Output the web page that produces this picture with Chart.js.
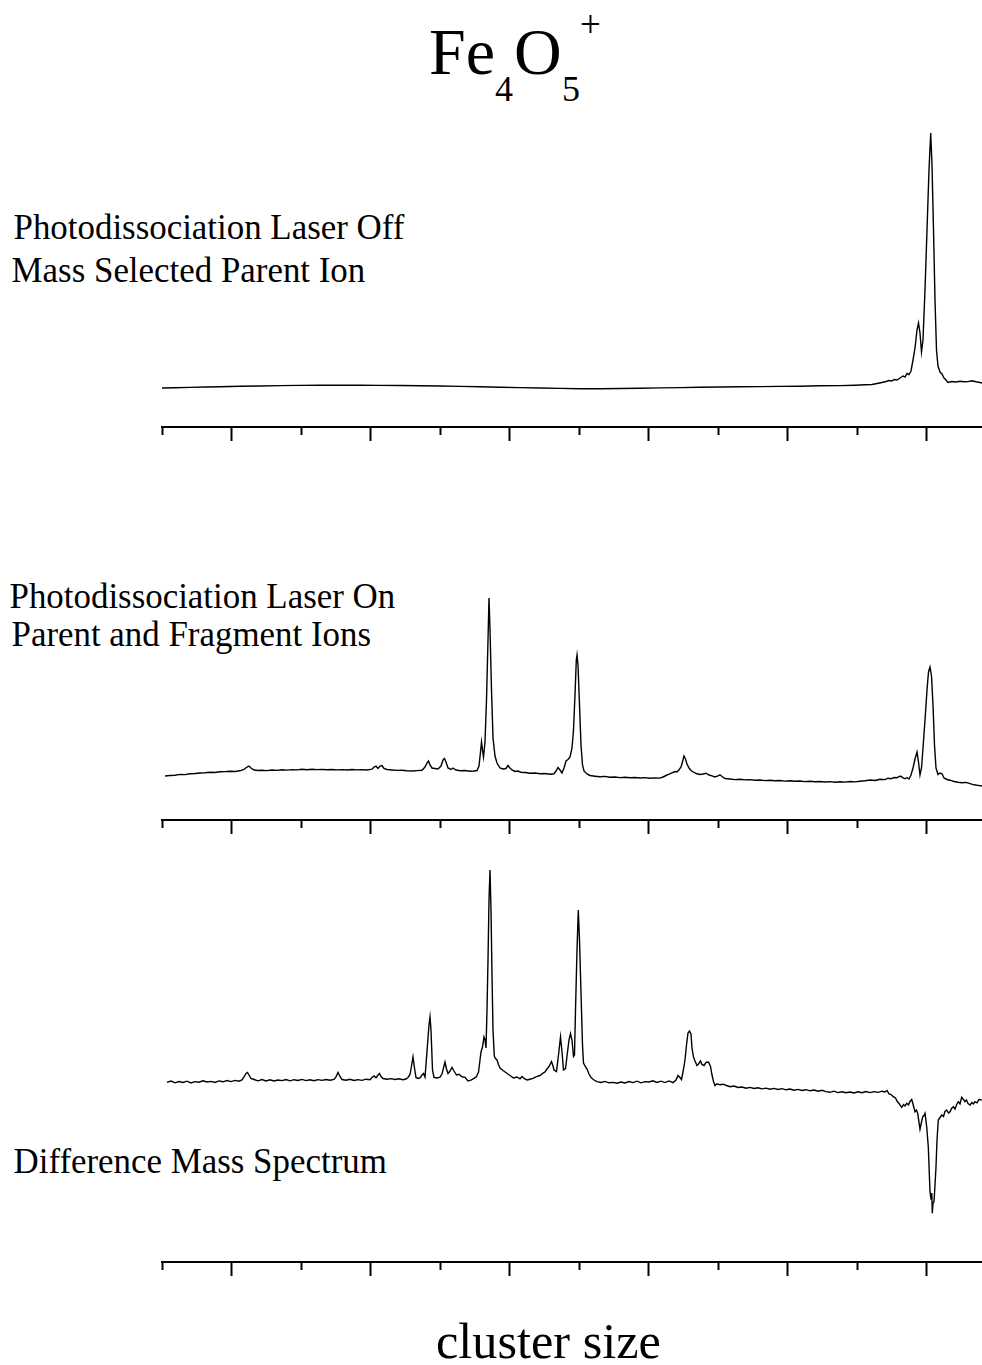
<!DOCTYPE html>
<html><head><meta charset="utf-8">
<script src="https://cdn.jsdelivr.net/npm/chart.js@4.4.1/dist/chart.umd.min.js"></script>
<style>
html,body{margin:0;padding:0;background:#fff;width:982px;height:1365px;overflow:hidden;position:relative;}
.t{position:absolute;font-family:"Liberation Serif","Times New Roman",serif;line-height:1;white-space:nowrap;color:#000;}
canvas{position:absolute;left:0;}
</style></head><body>
<div class="t" style="left:429px;top:19px;font-size:66px">Fe</div>
<div class="t" style="left:495px;top:71px;font-size:36px">4</div>
<div class="t" style="left:514px;top:19px;font-size:66px">O</div>
<div class="t" style="left:562px;top:71px;font-size:36px">5</div>
<div class="t" style="left:580px;top:6px;font-size:37px">+</div>

<div class="t" style="left:13.5px;top:210.5px;font-size:34.9px">Photodissociation Laser Off</div>
<div class="t" style="left:11.6px;top:254px;font-size:34.9px">Mass Selected Parent Ion</div>
<div class="t" style="left:9.5px;top:579.5px;font-size:34.9px">Photodissociation Laser On</div>
<div class="t" style="left:11.5px;top:617.5px;font-size:34.9px">Parent and Fragment Ions</div>
<div class="t" style="left:13.5px;top:1144.5px;font-size:34.9px">Difference Mass Spectrum</div>
<div class="t" style="left:436px;top:1316px;font-size:50.3px">cluster size</div>

<canvas id="c1" width="982" height="341" style="top:100px"></canvas>
<canvas id="c2" width="982" height="274" style="top:560px"></canvas>
<canvas id="c3" width="982" height="426" style="top:850px"></canvas>
<script>
// x ticks (arbitrary mass axis units), major ticks are the long ones
const tickValues = [0,69.5,139,208.5,278,347.5,417,486.5,556,625.5,695,764.5];
const majorTicks = [69.5,208.5,347.5,486.5,625.5,764.5];

// Photodissociation laser off : [x, intensity]
const laserOff = [[0,0],[13,0.2],[28,0.6],[43,1],[58,1.3],[78,1.7],[98,2],[118,2.4],[138,2.6],[158,2.7],
[178,2.8],[198,2.7],[218,2.6],[238,2.5],[258,2.2],[278,2],[298,1.6],[318,1.2],[338,0.8],[358,0.4],
[378,0],[398,-0.4],[418,-0.8],[438,-0.7],[458,-0.5],[478,-0.2],[498,0.1],[518,0.4],[538,0.7],[558,1],
[578,1.2],[598,1.4],[618,1.6],[638,1.8],[658,2.2],[678,2.4],[693,2.8],[703,3.2],[710,3.5],[715,4.5],
[720,5.5],[724,6.5],[727,7.5],[730,7],[732,8.5],[735,8],[738,10],[741,12],[743,11],[745,14.5],
[747,13.5],[749,17],[751,28],[753,40],[755,58],[756.5,65],[758,55],[759.5,36],[761,48],[763,98],
[765,158],[767,218],[768.7,255],[770,223],[771.5,158],[773,88],[774.5,38],[776,22],[778,16],[780,14],
[782,10],[784,8],[786,5.5],[790,6.5],[794,6],[798,6.8],[802,6.2],[806,6.4],[810,7.2],[814,6.2],[818,5.5],[820,5]];

// Photodissociation laser on : [x, intensity]
const laserOn = [[3,-1],[8,-0.5],[13,-0.2],[18,0.6],[23,0.4],[28,1.2],[33,1.5],[38,2],[43,2.2],[48,2.8],
[53,2.5],[58,3.2],[63,3.4],[68,3.8],[73,3.5],[78,4.2],[82,5.5],[85,8],[87,9],[89,7],[92,5],[96,4.5],
[100,4.8],[105,4.4],[110,5],[115,4.6],[120,5.2],[125,4.9],[130,5.4],[135,5.1],[140,5.7],[145,5.3],
[150,5.8],[155,5.4],[160,5.6],[165,5.2],[170,5.5],[175,5.1],[180,5.4],[185,5],[190,5.5],[195,5.1],
[200,5.4],[205,5],[210,5.8],[212,8],[214,8.8],[216,6.5],[218,9],[220,9.5],[222,6.5],[225,5.5],
[230,5],[235,4.6],[240,4.8],[245,4.2],[250,4],[255,4.4],[260,4.8],[263,8],[265,12],[266.5,14],
[268,10],[270,7],[273,6.5],[276,6],[279,9],[281,15],[282.5,16.5],[284,13],[286,7],[289,5.5],[291,7],
[294,5],[298,4.2],[303,4.5],[308,3.7],[312,4],[315,4.5],[317,9],[318.5,23],[319.5,33],[320.5,25],
[321.5,18],[323,33],[324.5,75],[326,135],[327,177],[328,145],[329.5,85],[331,37],[333,19],[335,12],
[338,7],[341,6],[344,6.5],[346,9.5],[348,7],[350,5],[353,3.5],[356,4],[359,2.8],[363,2.5],[368,1.8],
[373,2],[378,1.2],[383,1.5],[388,0.8],[392,1.2],[394,4],[396,7.5],[398,5],[400,2],[402,7],[404,14],
[406,15.5],[408,18],[410,27],[411.5,45],[413,80],[414.3,115],[415,120],[416,110],[417.5,70],[419,30],
[420.5,10],[422,4],[425,1],[428,-0.5],[433,-1.2],[438,-1.8],[443,-1.4],[448,-2.2],[453,-2],[458,-2.6],
[463,-2.3],[468,-2.8],[473,-2.5],[478,-3],[483,-2.6],[488,-3.2],[493,-2.9],[498,-3.1],[501,-2],
[504,-0.5],[507,0.8],[510,2.2],[513,3.5],[515,3],[517,5.2],[519,8],[520.5,13],[522,19],[523.5,16],
[525,11],[527,7],[529,4.5],[532,2.5],[535,1.2],[538,0.5],[541,1],[544,1.8],[547,0],[550,-0.8],[553,-2],
[556,-0.8],[558,0.2],[560,-1.5],[563,-3.5],[568,-4],[573,-4.6],[578,-4.3],[583,-4.9],[588,-4.6],
[593,-5.2],[598,-5],[603,-5.6],[608,-5.3],[613,-5.8],[618,-5.5],[623,-6.1],[628,-5.8],[633,-6.3],
[638,-6],[643,-6.6],[648,-6.2],[653,-6.8],[658,-6.5],[663,-7],[668,-6.6],[673,-7.2],[678,-6.8],
[683,-7.1],[688,-6.5],[693,-6.9],[698,-6.2],[703,-5.8],[708,-5],[713,-5.5],[718,-4.2],[723,-4.6],
[726,-3.2],[729,-3.8],[732,-2.5],[735,-2.8],[737,-1.5],[739,-1.2],[741,-2.8],[743,-3.8],[745,-2.5],
[747,-4],[749,0],[751,7],[753,16],[755,23],[756.5,13],[758,0],[759.5,7],[761,27],[763,55],[765,85],
[766.5,103],[768,108],[769.5,99],[771,70],[772.5,30],[774,7],[776,0.5],[778,2],[780,1.2],[782,-3],
[785,-4.5],[788,-5.2],[792,-6.5],[796,-7.2],[800,-7.8],[804,-7.4],[808,-8.6],[812,-9.8],[816,-10.4],[820,-11]];

// Difference mass spectrum (on - off) : [x, intensity]
const difference = [[5,-2.3],[9,-1],[13,-2.8],[17,-1.5],[21,-2.5],[25,-1.2],[29,-3],[33,-1.6],[37,-2.2],
[41,-0.8],[45,-2],[49,-1.4],[53,-2.4],[57,-0.9],[61,-1.8],[65,-0.6],[69,-1.6],[73,-0.4],[77,-1.2],
[80,0],[82,3],[84,6.5],[85.5,7.5],[87,5],[89,1.5],[92,0.5],[96,-0.8],[100,0.4],[104,-0.9],[108,0.2],
[112,-1],[116,0],[120,-0.6],[124,0.5],[128,-0.8],[132,0.3],[136,-0.5],[140,0.6],[144,-0.6],[148,0.2],
[152,-0.7],[156,0.4],[160,-0.4],[164,0.5],[168,-0.3],[172,0.6],[174,3],[176,7.5],[178,3.5],[180,0.5],
[184,-0.2],[188,0.7],[192,-0.5],[196,0.4],[200,-0.4],[204,0.8],[208,0.2],[210,2.5],[212,4],[214,2.2],
[216,5],[217.5,6.5],[219,3.5],[221,1.5],[225,0.8],[229,1.4],[233,0.5],[237,1.2],[241,0.2],[244,1],
[246,2.5],[248,5.5],[249.5,14],[251,23],[252.5,12],[254,2.5],[256,1.5],[258,2.2],[260,5],[261.5,6.5],
[263,3],[264.5,22],[266,42],[267,55],[268,63],[269,50],[270.5,10],[272,2.5],[275,2],[278,2.8],[280,6],
[282,14],[283,18],[284.5,11],[286,6.5],[288,9],[290,12.5],[292,9],[294.5,5],[297,5.7],[300,3.2],
[303,2.6],[306,-1],[309,-0.2],[312,1.7],[314.5,3.5],[316.5,8],[318,20],[319,28],[320.5,33],[322,43],
[323,40],[324,32],[325,70],[326,120],[327,180],[328,210],[329,170],[330,105],[331,50],[332.3,24],
[333.5,21.5],[335,20],[336.5,15.5],[338,12],[341,9.5],[344.5,7],[348,4.5],[351.5,2],[355,3],[358,1.2],
[360,3.5],[362,1.5],[365,0],[368,0.8],[371,1.6],[374.5,3.4],[378,4.5],[381,7],[383,8],[385,11],
[387,13.5],[389.5,18.5],[391,14],[392,10],[394.5,8.5],[396.5,25],[398.5,43],[400,28],[401.5,10],
[403.5,11.5],[405.5,28],[407,40],[408.5,46.5],[410,40],[411.5,23.5],[412.5,25],[413.5,70],[415,130],
[416.3,170],[417.5,140],[419,87],[420.5,35],[421.5,17],[423,14],[425,11],[427,6],[429,2.5],[432,0],
[435,-1.6],[439,-2.5],[443,-1.4],[447,-2.8],[451,-2.4],[455,-3.2],[459,-2],[463,-3],[467,-1.6],
[471,-2.6],[475,-1.2],[479,-2.8],[483,-1.6],[487,-2],[491,-0.8],[495,-2.4],[499,-1.2],[503,-2.6],
[507,-0.9],[511,-2.6],[514,0],[516,4.5],[518,2.5],[519.5,0.5],[521,8],[523,20],[524.5,35],[526,47],
[527.5,49],[529,46],[530,32],[531.5,23],[533,19],[535,14.5],[536.5,16],[538.5,19],[540,15.5],
[542,14.5],[544,17.5],[546.5,18],[548.5,13.5],[550,5],[551.5,-1.5],[553,-5.5],[555,-3.8],[558,-4.8],
[561,-4.2],[564.5,-5.5],[568,-6.7],[572,-6],[576,-7.5],[580,-7],[584,-8.2],[588,-7.4],[592,-8.5],
[596,-7.8],[600,-8.9],[604,-8.1],[608,-9.2],[612,-8.4],[616,-9.5],[620,-8.6],[624,-9.8],[628,-9],
[632,-10.2],[636,-9.4],[640,-10.5],[644,-9.7],[648,-10.8],[652,-10],[656,-11.2],[660,-10.3],
[664,-11.6],[668,-12.3],[672,-11.2],[676,-12.6],[680,-11.8],[684,-12.8],[688,-12],[692,-13],
[696,-11.8],[700,-12.7],[704,-11.5],[708,-12.6],[712,-11.6],[716,-12.4],[720,-11.2],[723,-12],
[725,-10.5],[727,-13.8],[729,-14.5],[731.3,-16.7],[733.5,-18],[735,-21],[737,-23.5],[739.7,-27.3],
[741.5,-24.5],[743,-26],[744.7,-23.3],[746.5,-24.8],[748,-21.5],[749.7,-19.5],[751,-24],[753,-31.7],
[754.5,-30],[755.7,-33.3],[758,-49.3],[759.5,-42],[760.7,-36.7],[762,-35.5],[763,-33.3],[764.7,-46.7],
[766.3,-66.7],[768,-111.7],[769,-119],[769.8,-113],[770.3,-133.3],[771,-123],[772,-121.7],[773,-105],
[774,-86.7],[775,-60],[776.3,-40],[778,-37.5],[779.7,-35],[781.5,-36.5],[783,-31.5],[784.7,-30],
[786.5,-33],[788,-31.7],[789.5,-28.5],[791.3,-26.7],[793,-29],[794.7,-24.5],[796.3,-21.7],[798,-24],
[799.7,-17.3],[801.5,-19.5],[803,-21.7],[804.5,-20],[806,-23.5],[808,-25],[810,-22.5],[811.5,-24],
[813,-21.7],[815,-22.8],[817,-19.5],[819.7,-20]];

function makeChart(id, series, yMin, yMax) {
  return new Chart(document.getElementById(id), {
    type: 'line',
    data: { datasets: [{
      data: series.map(p => ({x: p[0], y: p[1]})),
      borderColor: '#000', borderWidth: 1.4, pointRadius: 0, tension: 0, fill: false
    }]},
    options: {
      responsive: false, animation: false, events: [],
      layout: { padding: { left: 162, right: 0, top: 0, bottom: 0 } },
      plugins: { legend: { display: false }, tooltip: { enabled: false } },
      scales: {
        x: {
          type: 'linear', position: 'bottom', min: 0, max: 820,
          afterBuildTicks: s => { s.ticks = tickValues.map(v => ({ value: v })); },
          ticks: { display: false, autoSkip: false },
          grid: {
            display: true, drawOnChartArea: false, drawTicks: true, tickLength: 14,
            tickWidth: 2, tickColor: '#000',
            tickBorderDash: c => (c.tick && majorTicks.includes(c.tick.value)) ? [] : [7, 40]
          },
          border: { display: true, color: '#000', width: 2 }
        },
        y: { type: 'linear', display: false, min: yMin, max: yMax }
      }
    }
  });
}

makeChart('c1', laserOff, -39, 288);
makeChart('c2', laserOn, -45, 215);
makeChart('c3', difference, -182, 230);
</script>
</body></html>
